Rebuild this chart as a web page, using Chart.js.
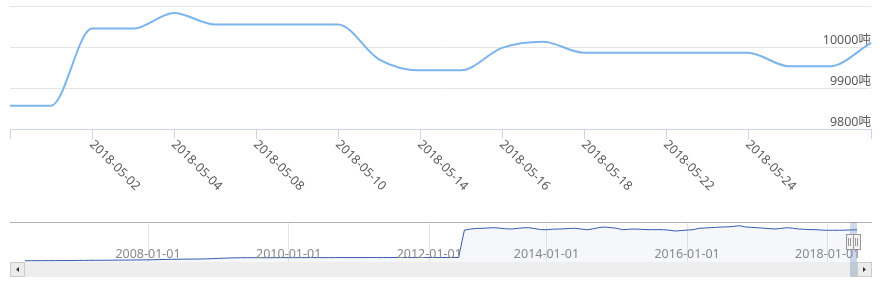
<!DOCTYPE html>
<html>
<head>
<meta charset="utf-8">
<script src="https://cdn.jsdelivr.net/npm/chart.js@4"></script>
<style>
body { margin: 0; background: #fff; }
#wrap { position: relative; width: 880px; height: 285px; }
#wrap canvas { position: absolute; left: 0; }
#main { top: 0; }
#nav { top: 215px; }
</style>
</head>
<body>
<div id="wrap">
  <canvas id="main" width="880" height="215"></canvas>
  <canvas id="nav" width="880" height="70"></canvas>
</div>
<script>
// main chart: last month of data
const dates = ['2018-04-26', '2018-04-27', '2018-05-02', '2018-05-03', '2018-05-04', '2018-05-07',
    '2018-05-08', '2018-05-09', '2018-05-10', '2018-05-11', '2018-05-14', '2018-05-15',
    '2018-05-16', '2018-05-17', '2018-05-18', '2018-05-21', '2018-05-22', '2018-05-23',
    '2018-05-24', '2018-05-25', '2018-05-28', '2018-05-29'];
const stock = [9857, 9857, 10045, 10045, 10083, 10055, 10055, 10055, 10055, 9970, 9943, 9943,
    9998, 10013, 9986, 9986, 9986, 9986, 9986, 9953, 9953, 10010];
const dateLabels = ['2018-05-02', '2018-05-04', '2018-05-08', '2018-05-10', '2018-05-14',
    '2018-05-16', '2018-05-18', '2018-05-22', '2018-05-24'];
const yTicks = [9800, 9900, 10000, 10100];
const yUnit = '吨';

// navigator: monthly history
const navValues = [
    400, 410, 405, 420, 430, 425, 440, 450, 455,
    480, 500, 510, 530, 520, 550, 570, 580, 600, 610, 630, 650, 660,
    700, 760, 800, 830, 850, 880, 900, 920, 930,
    980, 1050, 1120, 1180, 1250, 1300,
    1320, 1330, 1340, 1330, 1320, 1330, 1350, 1360, 1350, 1340, 1350, 1360, 1370, 1360, 1350,
    1360, 1370, 1380, 1370, 1360, 1370, 1380, 1390, 1380, 1370, 1380, 1390, 1400, 1390, 1380,
    1390, 1400, 1410, 1400, 1390, 1400, 1410, 1400,
    9920, 10200, 10400, 10440, 10550, 10630, 10500, 10300, 10230, 10400, 10600, 10630, 10350,
    10050, 10010, 10150, 10230, 10300, 10400, 10440, 10200, 10010, 10300, 10700, 10850, 10650,
    10440, 10010, 10150, 10230, 10150, 10050, 10010, 10050, 10000, 9850, 9610, 9750, 9900,
    10010, 10440, 10550, 10650, 10750, 10850, 10900, 11050, 11250, 10850, 10750, 10630, 10500,
    10350, 10230, 10400, 10630, 10500, 10230, 10150, 10050, 10010, 9900, 9830, 9850, 9830,
    9880, 9950, 10010];
const navSkip = ['2012-07', '2012-08', '2012-09', '2012-10'];
const navTickLabels = ['2008-01-01', '2010-01-01', '2012-01-01', '2014-01-01', '2016-01-01', '2018-01-01'];

const navMonths = [];
for (let y = 2006, m = 4; navMonths.length < navValues.length; m++) {
    if (m > 12) { m = 1; y++; }
    const s = y + '-' + String(m).padStart(2, '0');
    if (!navSkip.includes(s)) navMonths.push(s);
}

const fontFamily = "'Noto Sans', 'Noto Sans CJK SC', sans-serif";
Chart.defaults.font.family = fontFamily;
Chart.defaults.font.size = 12.5;
Chart.defaults.color = '#666';

const isLabelled = i => dateLabels.includes(dates[i]);
const hasTick = i => i === 0 || i === dates.length - 1 || isLabelled(i);
const isNavTick = i => navTickLabels.includes(navMonths[i] + '-01');

// x labels run down to the right, starting at the tick
const rotatedLabels = {
    id: 'rotatedLabels',
    afterDraw(chart) {
        const xs = chart.scales.x;
        const ctx = chart.ctx;
        ctx.save();
        ctx.font = '12.5px ' + fontFamily;
        ctx.fillStyle = '#5a5a5a';
        ctx.textAlign = 'left';
        ctx.textBaseline = 'top';
        dates.forEach((d, i) => {
            if (!isLabelled(i)) return;
            ctx.save();
            ctx.translate(xs.getPixelForValue(i) + 4, xs.top + 9);
            ctx.rotate(Math.PI / 4);
            ctx.fillText(d, 0, 0);
            ctx.restore();
        });
        ctx.restore();
    }
};

new Chart(document.getElementById('main').getContext('2d'), {
    type: 'line',
    data: {
        labels: dates,
        datasets: [{
            data: stock,
            borderColor: '#7cb5ec',
            borderWidth: 2,
            pointRadius: 0,
            cubicInterpolationMode: 'monotone',
            fill: false
        }]
    },
    options: {
        responsive: false,
        animation: false,
        layout: { padding: { top: 6, left: 10, right: 9, bottom: 76 } },
        plugins: { legend: { display: false }, tooltip: { enabled: false } },
        scales: {
            x: {
                offset: false,
                border: { color: '#ccd6eb' },
                grid: {
                    drawOnChartArea: false,
                    tickLength: 10,
                    tickColor: c => hasTick(c.index) ? '#ccd6eb' : 'rgba(0,0,0,0)'
                },
                ticks: { display: false }
            },
            y: {
                position: 'right',
                min: yTicks[0],
                max: yTicks[yTicks.length - 1],
                afterBuildTicks: a => { a.ticks = yTicks.map(v => ({ value: v })); },
                afterFit: a => { a.paddingTop = 0; a.paddingBottom = 0; },
                border: { display: false },
                grid: {
                    drawTicks: false,
                    color: c => c.index === 0 ? 'rgba(0,0,0,0)' : '#e6e6e6'
                },
                ticks: {
                    mirror: true,
                    padding: 0,
                    labelOffset: -7,
                    color: '#5a5a5a',
                    callback: (v, i) => i === yTicks.length - 1 ? '' : v + yUnit
                }
            }
        }
    },
    plugins: [rotatedLabels]
});

// navigator labels, mask, handles and scrollbar
const navDecor = {
    id: 'navDecor',
    afterDraw(chart) {
        const a = chart.chartArea;
        const xs = chart.scales.x;
        const ctx = chart.ctx;
        ctx.save();
        ctx.font = '12.5px ' + fontFamily;
        ctx.fillStyle = '#888';
        ctx.textAlign = 'center';
        ctx.textBaseline = 'middle';
        navMonths.forEach((m, i) => {
            if (isNavTick(i)) ctx.fillText(m + '-01', xs.getPixelForValue(i), a.bottom - 8);
        });

        // outline
        ctx.strokeStyle = '#b3b3b3';
        ctx.lineWidth = 1;
        ctx.beginPath();
        ctx.moveTo(10, a.top + 0.5);
        ctx.lineTo(872, a.top + 0.5);
        ctx.stroke();

        // selected range mask
        ctx.fillStyle = 'rgba(102,133,194,0.3)';
        ctx.fillRect(a.right - 7, a.top, 7, a.bottom - a.top);

        // scrollbar
        const sy = a.bottom, sh = 15;
        ctx.fillStyle = '#eeeeee';
        ctx.fillRect(10, sy, 862, sh);
        ctx.fillStyle = '#bfc8d5';
        ctx.fillRect(a.right - 7, sy, 7, sh);
        [[10, -1], [a.right, 1]].forEach(([bx, dir]) => {
            ctx.fillStyle = '#ececec';
            ctx.fillRect(bx, sy, 14, sh);
            ctx.strokeStyle = '#cccccc';
            ctx.strokeRect(bx + 0.5, sy + 0.5, 14, sh - 1);
            const cx = bx + 7.5, cy = sy + sh / 2;
            ctx.fillStyle = '#333';
            ctx.beginPath();
            ctx.moveTo(cx + 1.5 * dir, cy);
            ctx.lineTo(cx - 1.5 * dir, cy - 2.5);
            ctx.lineTo(cx - 1.5 * dir, cy + 2.5);
            ctx.closePath();
            ctx.fill();
        });

        // handles
        [a.right - 11, a.right - 4].forEach(hx => {
            ctx.fillStyle = '#f2f2f2';
            ctx.fillRect(hx, a.top + 12, 7, 15);
            ctx.strokeStyle = '#999';
            ctx.strokeRect(hx + 0.5, a.top + 12.5, 7, 15);
            ctx.beginPath();
            ctx.moveTo(hx + 2.5, a.top + 16); ctx.lineTo(hx + 2.5, a.top + 24);
            ctx.moveTo(hx + 4.5, a.top + 16); ctx.lineTo(hx + 4.5, a.top + 24);
            ctx.stroke();
        });
        ctx.restore();
    }
};

new Chart(document.getElementById('nav').getContext('2d'), {
    type: 'line',
    data: {
        labels: navMonths,
        datasets: [{
            data: navValues,
            borderColor: '#335cad',
            borderWidth: 1,
            backgroundColor: 'rgba(51,92,173,0.05)',
            fill: 'start',
            pointRadius: 0,
            tension: 0
        }]
    },
    options: {
        responsive: false,
        animation: false,
        layout: { padding: { top: 7, left: 25, right: 23, bottom: 23 } },
        plugins: { legend: { display: false }, tooltip: { enabled: false } },
        scales: {
            x: {
                offset: false,
                border: { display: false },
                grid: {
                    drawTicks: false,
                    color: c => isNavTick(c.index) ? '#e6e6e6' : 'rgba(0,0,0,0)'
                },
                ticks: { display: false }
            },
            y: { display: false, min: 0, max: 12400 }
        }
    },
    plugins: [navDecor]
});
</script>
</body>
</html>
